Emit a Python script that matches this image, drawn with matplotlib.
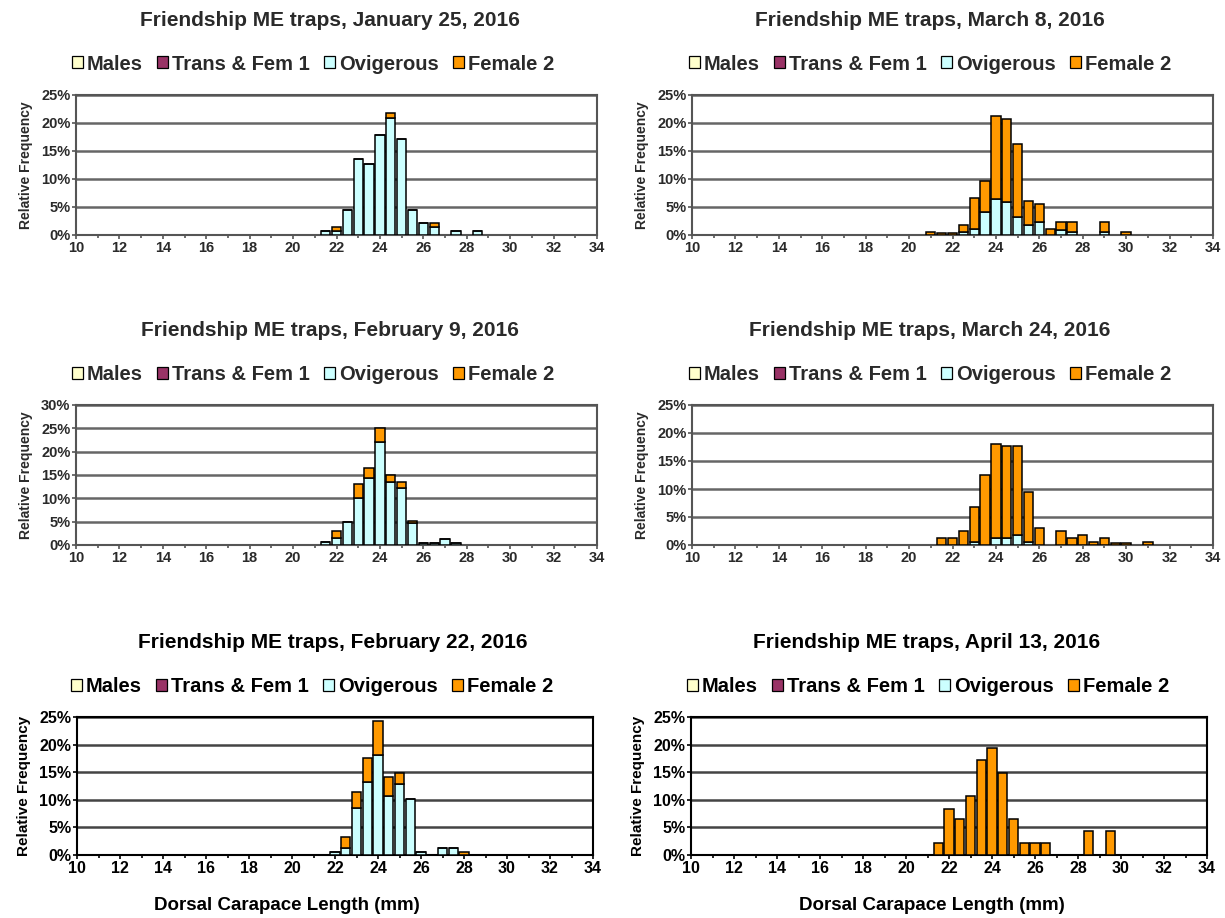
"""
Friendship ME traps - size frequency of females, Jan-Apr 2016.
Six stacked histograms (relative frequency by dorsal carapace length).
"""

import matplotlib
matplotlib.use("Agg")
import matplotlib.pyplot as plt
from matplotlib.patches import Patch
from matplotlib.ticker import MultipleLocator

plt.rcParams["font.family"] = ["Liberation Sans", "DejaVu Sans"]
plt.rcParams["font.weight"] = "bold"

# ── data (relative frequency, %) ─────────────────────────────────────────────
series_names = ["Males", "Trans & Fem 1", "Ovigerous", "Female 2"]
series_colors = ["#FFFFCC", "#993366", "#CCFFFF", "#FF9900"]

jan25_sizes = [21.5, 22, 22.5, 23, 23.5, 24, 24.5, 25, 25.5, 26, 26.5, 27.5, 28.5]
jan25_ovig = [0.7, 0.8, 4.4, 13.5, 12.7, 17.9, 20.9, 17.2, 4.4, 2.2, 1.4, 0.7, 0.7]
jan25_fem2 = [0, 0.7, 0, 0, 0, 0, 0.8, 0, 0, 0, 0.8, 0, 0]

feb9_sizes = [21.5, 22, 22.5, 23, 23.5, 24, 24.5, 25, 25.5, 26, 26.5, 27, 27.5]
feb9_ovig = [0.6, 1.6, 5.0, 10.0, 14.3, 22.1, 13.6, 12.3, 4.8, 0.4, 0.4, 1.2, 0.5]
feb9_fem2 = [0, 1.4, 0, 3.0, 2.3, 3.0, 1.3, 1.3, 0.3, 0, 0, 0, 0]

feb22_sizes = [22, 22.5, 23, 23.5, 24, 24.5, 25, 25.5, 26, 27, 27.5, 28]
feb22_ovig = [0.6, 1.2, 8.6, 13.3, 18.1, 10.7, 12.8, 10.1, 0.6, 1.3, 1.3, 0]
feb22_fem2 = [0, 2.1, 2.8, 4.2, 6.2, 3.5, 2.1, 0, 0, 0, 0, 0.6]

mar8_sizes = [21, 21.5, 22, 22.5, 23, 23.5, 24, 24.5, 25, 25.5, 26, 26.5, 27, 27.5, 29, 30]
mar8_ovig = [0, 0, 0, 0.5, 1.0, 4.1, 6.5, 5.9, 3.3, 1.7, 2.3, 0, 0.9, 0.5, 0.5, 0]
mar8_fem2 = [0.5, 0.4, 0.4, 1.2, 5.6, 5.6, 14.8, 14.9, 13.0, 4.3, 3.2, 1.0, 1.4, 1.8, 1.8, 0.5]

mar24_sizes = [21.5, 22, 22.5, 23, 23.5, 24, 24.5, 25, 25.5, 26, 27, 27.5, 28, 28.5, 29, 29.5, 30, 31]
mar24_ovig = [0, 0, 0, 0.6, 0, 1.2, 1.2, 1.8, 0.6, 0, 0, 0, 0, 0, 0, 0, 0, 0]
mar24_fem2 = [1.2, 1.2, 2.5, 6.2, 12.5, 16.9, 16.4, 15.8, 8.8, 3.1, 2.5, 1.2, 1.8, 0.5, 1.3, 0.4, 0.4, 0.6]

apr13_sizes = [21.5, 22, 22.5, 23, 23.5, 24, 24.5, 25, 25.5, 26, 26.5, 28.5, 29.5]
apr13_ovig = [0] * 13
apr13_fem2 = [2.1, 8.4, 6.5, 10.7, 17.2, 19.4, 14.9, 6.5, 2.1, 2.1, 2.1, 4.3, 4.3]

titles = [
    "Friendship ME traps, January 25, 2016",
    "Friendship ME traps, March 8, 2016",
    "Friendship ME traps, February 9, 2016",
    "Friendship ME traps, March 24, 2016",
    "Friendship ME traps, February 22, 2016",
    "Friendship ME traps, April 13, 2016",
]
x_ticks = list(range(10, 35, 2))
y_max = [25, 25, 30, 25, 25, 25]

panels = [
    (jan25_sizes, jan25_ovig, jan25_fem2),
    (mar8_sizes, mar8_ovig, mar8_fem2),
    (feb9_sizes, feb9_ovig, feb9_fem2),
    (mar24_sizes, mar24_ovig, mar24_fem2),
    (feb22_sizes, feb22_ovig, feb22_fem2),
    (apr13_sizes, apr13_ovig, apr13_fem2),
]

# ── layout (pixels: left, right, top, bottom) ────────────────────────────────
W, H = 1225, 918
boxes = [
    (76, 597, 95, 235), (692, 1213, 95, 235),
    (76, 597, 405, 545), (692, 1213, 405, 545),
    (77, 593, 717, 855), (691, 1207, 717, 855),
]
title_xy = [(330, 20), (930, 20), (330, 330), (930, 330), (333, 643), (927, 643)]
legend_xy = [(313, 64), (930, 64), (313, 375), (930, 375), (312, 687), (928, 687)]

fig = plt.figure(figsize=(W / 100, H / 100), dpi=100)

for i, ((sizes, ovig, fem2), box) in enumerate(zip(panels, boxes)):
    bottom_row = i >= 4
    ink = "black" if bottom_row else "#2a2a2a"
    line = "black" if bottom_row else "#555555"
    tick_fs = 11.5 if bottom_row else 10.5
    ylab_fs = 11 if bottom_row else 10

    l, r, t, b = box
    ax = fig.add_axes([l / W, 1 - b / H, (r - l) / W, (b - t) / H])

    zeros = [0] * len(sizes)
    stacks = [zeros, zeros, ovig, fem2]
    base = [0] * len(sizes)
    for vals, color in zip(stacks, series_colors):
        if any(vals):
            ax.bar(sizes, vals, width=0.43, bottom=base, color=color,
                   edgecolor="black", linewidth=1.1, zorder=3)
        base = [p + v for p, v in zip(base, vals)]

    ax.set_xlim(10, 34)
    ax.set_ylim(0, y_max[i])
    ax.set_xticks(x_ticks)
    ax.xaxis.set_minor_locator(MultipleLocator(1))
    yt = list(range(0, y_max[i] + 1, 5))
    ax.set_yticks(yt)
    ax.set_yticklabels([f"{v}%" for v in yt])
    ax.yaxis.grid(True, color="#444444" if bottom_row else "#666666",
                  linewidth=1.8, zorder=1)
    ax.set_axisbelow(True)
    for s in ax.spines.values():
        s.set_color(line)
        s.set_linewidth(1.5)
    ax.tick_params(axis="both", which="both", direction="out", length=3,
                   width=1.2, color=line, labelsize=tick_fs, labelcolor=ink, pad=1)
    ax.tick_params(axis="x", which="minor", length=2)
    ax.set_ylabel("Relative Frequency", fontsize=ylab_fs, fontweight="bold",
                  color=ink, labelpad=6)

    tx, ty = title_xy[i]
    fig.text(tx / W, 1 - ty / H, titles[i], ha="center", va="center",
             fontsize=15, fontweight="bold", color=ink)

    handles = [Patch(facecolor=c, edgecolor="black", linewidth=0.9) for c in series_colors]
    lx, ly = legend_xy[i]
    ax.legend(handles, series_names, loc="center", bbox_to_anchor=(lx / W, 1 - ly / H),
              bbox_transform=fig.transFigure, ncol=4, frameon=False,
              handlelength=0.55, handleheight=0.55, handletextpad=0.2,
              columnspacing=0.7, borderpad=0,
              prop={"size": 14.5, "weight": "bold"}, labelcolor=ink)

for x in (287, 932):
    fig.text(x / W, 1 - 905 / H, "Dorsal Carapace Length (mm)", ha="center",
             va="center", fontsize=13.5, fontweight="bold", color="black")

plt.savefig("out.png", dpi=100)
plt.close()
